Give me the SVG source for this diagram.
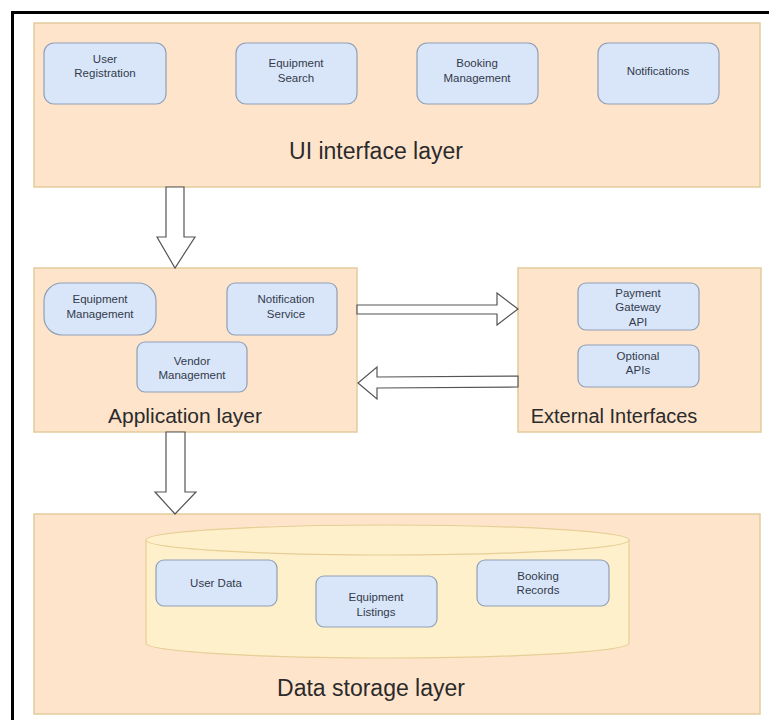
<svg xmlns="http://www.w3.org/2000/svg" width="769" height="720" viewBox="0 0 769 720">
  <style>
    .layer { fill: #FFE4CC; stroke: #E3CC9C; stroke-width: 1.5; }
    .box { fill: #D9E6FA; stroke: #8F9FB5; stroke-width: 1.2; }
    .db { fill: #FFF0CC; stroke: #E6CE94; stroke-width: 1.2; }
    .small { font-family: "Liberation Sans", Arial, sans-serif; font-size: 11.5px; fill: #333a4a; text-anchor: middle; }
    .title { font-family: "Liberation Sans", Arial, sans-serif; fill: #2b2b2b; text-anchor: middle; }
    .arrow { fill: #ffffff; stroke: #555555; stroke-width: 1.2; stroke-linejoin: miter; }
  </style>

  <rect x="0" y="0" width="769" height="720" fill="#ffffff"/>
  <!-- outer frame -->
  <rect x="12.5" y="12.5" width="780" height="730" fill="none" stroke="#000000" stroke-width="3"/>

  <!-- UI interface layer -->
  <g id="ui-layer">
    <rect class="layer" x="34" y="23" width="726" height="164"/>
    <text class="title" x="376" y="159" font-size="23">UI interface layer</text>
  </g>
  <g id="user-registration">
    <rect class="box" x="44" y="43" width="122" height="61" rx="10"/>
    <text class="small" x="105" y="63">User</text>
    <text class="small" x="105" y="77">Registration</text>
  </g>
  <g id="equipment-search">
    <rect class="box" x="236" y="43" width="121" height="61" rx="10"/>
    <text class="small" x="296" y="67">Equipment</text>
    <text class="small" x="296" y="82">Search</text>
  </g>
  <g id="booking-management">
    <rect class="box" x="417" y="43" width="121" height="61" rx="10"/>
    <text class="small" x="477" y="67">Booking</text>
    <text class="small" x="477" y="82">Management</text>
  </g>
  <g id="notifications">
    <rect class="box" x="598" y="43" width="121" height="61" rx="10"/>
    <text class="small" x="658" y="75">Notifications</text>
  </g>

  <!-- Application layer -->
  <g id="application-layer">
    <rect class="layer" x="34" y="268" width="323" height="164"/>
    <text class="title" x="185" y="423" font-size="21">Application layer</text>
  </g>
  <g id="equipment-management">
    <rect class="box" x="44" y="283" width="112" height="52" rx="18"/>
    <text class="small" x="100" y="303">Equipment</text>
    <text class="small" x="100" y="318">Management</text>
  </g>
  <g id="notification-service">
    <rect class="box" x="227" y="283" width="110" height="52" rx="8"/>
    <text class="small" x="286" y="303">Notification</text>
    <text class="small" x="286" y="318">Service</text>
  </g>
  <g id="vendor-management">
    <rect class="box" x="137" y="342" width="110" height="50" rx="8"/>
    <text class="small" x="192" y="365">Vendor</text>
    <text class="small" x="192" y="379">Management</text>
  </g>

  <!-- External interfaces -->
  <g id="external-interfaces">
    <rect class="layer" x="518" y="268" width="243" height="164"/>
    <text class="title" x="614" y="423" font-size="20">External Interfaces</text>
  </g>
  <g id="payment-gateway-api">
    <rect class="box" x="578" y="283" width="121" height="47" rx="8"/>
    <text class="small" x="638" y="297">Payment</text>
    <text class="small" x="638" y="311">Gateway</text>
    <text class="small" x="638" y="326">API</text>
  </g>
  <g id="optional-apis">
    <rect class="box" x="578" y="345" width="121" height="42" rx="8"/>
    <text class="small" x="638" y="360">Optional</text>
    <text class="small" x="638" y="374">APIs</text>
  </g>

  <!-- Data storage layer -->
  <g id="data-storage-layer">
    <rect class="layer" x="34" y="514" width="726" height="200"/>
    <text class="title" x="371" y="696" font-size="23">Data storage layer</text>
  </g>
  <g id="database">
    <path class="db" d="M146 540 A241.5 15 0 0 1 629 540 L629 643 A241.5 15 0 0 1 146 643 Z"/>
    <path class="db" d="M146 540 A241.5 15 0 0 0 629 540" fill="none"/>
  </g>
  <g id="user-data">
    <rect class="box" x="156" y="560" width="121" height="46" rx="8"/>
    <text class="small" x="216" y="587">User Data</text>
  </g>
  <g id="equipment-listings">
    <rect class="box" x="316" y="576" width="121" height="51" rx="8"/>
    <text class="small" x="376" y="601">Equipment</text>
    <text class="small" x="376" y="616">Listings</text>
  </g>
  <g id="booking-records">
    <rect class="box" x="477" y="560" width="132" height="46" rx="8"/>
    <text class="small" x="538" y="580">Booking</text>
    <text class="small" x="538" y="594">Records</text>
  </g>

  <!-- connectors: hollow block arrows -->
  <g id="connectors">
    <polygon class="arrow" points="166,187 184,187 184,237 195,237 175,268 157,237 166,237"/>
    <polygon class="arrow" points="166,432 185,432 185,492 196,492 175,514 155,492 166,492"/>
    <polygon class="arrow" points="357,305 497,305 497,293 518,309 497,325 497,314 357,314"/>
    <polygon class="arrow" points="518,376 377,377 377,367 358,383 377,399 377,388 518,387"/>
  </g>
</svg>
